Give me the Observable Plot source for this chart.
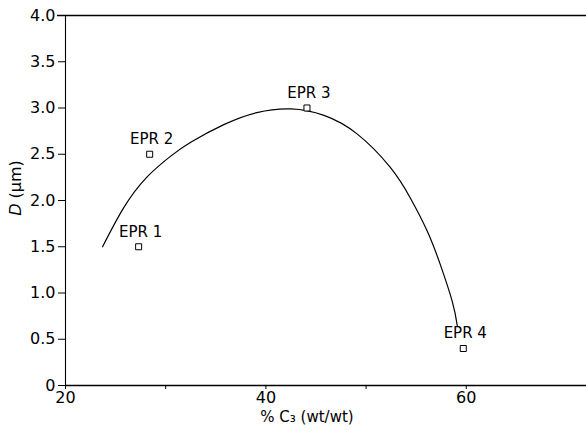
<!DOCTYPE html>
<html>
<head>
<meta charset="utf-8">
<script src="https://cdn.jsdelivr.net/npm/d3@7"></script>
<script src="https://cdn.jsdelivr.net/npm/@observablehq/plot@0.6"></script>
<style>
  html, body { margin: 0; padding: 0; background: #fff; }
  #chart svg { display: block; }
</style>
</head>
<body>
<div id="chart"></div>
<script>
// Measured points (EPR samples)
const pointLabels = ["EPR 1", "EPR 2", "EPR 3", "EPR 4"];
const pointX = [27.3, 28.4, 44.1, 59.7];
const pointY = [1.5, 2.5, 3.0, 0.4];

// Fitted curve
const curveX = [23.7, 25.8, 28.1, 30.5, 32.5, 35.8, 39.1, 42.5, 45.8, 49.1, 52.4, 54.4, 56.1, 57.4, 58.6, 59.1];
const curveY = [1.50, 1.92, 2.25, 2.48, 2.63, 2.82, 2.95, 2.99, 2.92, 2.72, 2.36, 2.03, 1.67, 1.31, 0.91, 0.65];

// Axes
const xTicks = [20, 30, 40, 50, 60];
const xTickLabels = ["20", "", "40", "", "60"];
const yTicks = [0, 0.5, 1.0, 1.5, 2.0, 2.5, 3.0, 3.5, 4.0];
const yTickLabels = ["0", "0.5", "1.0", "1.5", "2.0", "2.5", "3.0", "3.5", "4.0"];
const xLabel = "% C\u2083 (wt/wt)";

const points = pointLabels.map((label, i) => ({label, x: pointX[i], y: pointY[i]}));
const curve = curveX.map((x, i) => ({x, y: curveY[i]}));

const plot = Plot.plot({
  width: 586,
  height: 435,
  marginLeft: 65,
  marginRight: 0,
  marginTop: 15,
  marginBottom: 50,
  style: {fontFamily: "'DejaVu Sans', sans-serif", fontSize: "15px", color: "#000", background: "#fff"},
  x: {domain: [20, 72]},
  y: {domain: [0, 4]},
  marks: [
    Plot.axisX({ticks: xTicks, tickSize: 4, tickPadding: 2, tickFormat: (d) => xTickLabels[xTicks.indexOf(d)], label: null, fontSize: 16}),
    Plot.axisY({ticks: yTicks, tickSize: 7, tickPadding: 3, tickFormat: (d) => yTickLabels[yTicks.indexOf(d)], label: null, fontSize: 16}),
    Plot.ruleY([0], {stroke: "#000", strokeWidth: 1.3}),
    Plot.ruleY([4], {stroke: "#000", strokeWidth: 1.5, insetLeft: -8}),
    Plot.ruleX([20], {stroke: "#000", strokeWidth: 1.1}),
    Plot.line(curve, {x: "x", y: "y", curve: "natural", stroke: "#000", strokeWidth: 1.2}),
    Plot.dot(points, {x: "x", y: "y", symbol: "square", r: 3.4, fill: "#fff", stroke: "#000", strokeWidth: 1}),
    Plot.text(points, {x: "x", y: "y", text: "label", dy: -15, dx: 2, fontSize: 15, fill: "#000"}),
    Plot.text([xLabel], {frameAnchor: "bottom", dy: 36, dx: -19, fontSize: 15, fill: "#000"})
  ]
});

// y-axis label with italic D, as real text
const svg = d3.select(plot);
const yl = svg.append("text")
  .attr("transform", "translate(21,188) rotate(-90)")
  .attr("text-anchor", "middle")
  .attr("font-size", 16)
  .attr("fill", "#000");
yl.append("tspan").attr("font-style", "italic").text("D");
yl.append("tspan").text(" (\u03bcm)");

document.getElementById("chart").appendChild(plot);
</script>
</body>
</html>
